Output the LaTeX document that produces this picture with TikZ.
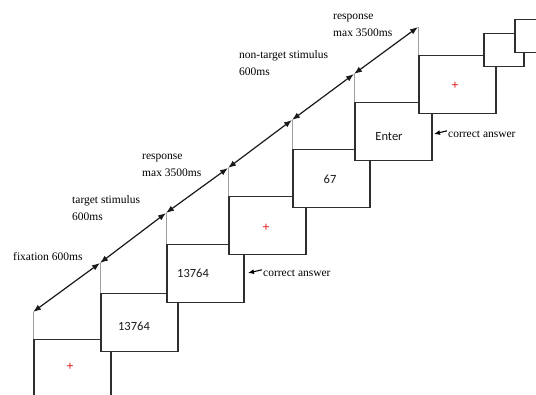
\documentclass[tikz,border=0pt]{standalone}
\usepackage{fontspec}
\setmainfont{Liberation Serif}
\newfontfamily\screenfont{Carlito}
\usetikzlibrary{arrows.meta}
\definecolor{frame}{HTML}{2E2E2E}
\definecolor{guidegray}{HTML}{A0A0A0}
\definecolor{cross}{HTML}{E02020}
\tikzset{
  screen/.style={draw=frame, line width=1.5pt, fill=white, anchor=north west,
    inner sep=0pt, minimum width=77pt, minimum height=58pt},
  smallscreen/.style={screen, minimum width=40pt, minimum height=33pt},
  guideline/.style={draw=guidegray, line width=0.8pt},
  timeline/.style={{Latex[length=8pt,width=6pt]}-{Latex[length=8pt,width=6pt]},
    line width=1.2pt, black!90},
  phase/.style={font=\fontsize{11.5}{17}\selectfont, anchor=base west, inner sep=0pt,
    align=left, text=black},
  fixmark/.style={text=cross, font=\fontsize{13}{13}\selectfont\bfseries, inner sep=0pt},
  screentext/.style={font=\screenfont\fontsize{12.5}{12.5}\selectfont, inner sep=0pt, text=black!90},
  pointer/.style={-{Latex[length=6pt,width=5pt]}, line width=1.1pt, black}
}
\begin{document}
\begin{tikzpicture}[x=1pt,y=-1pt]
\useasboundingbox (0,0) rectangle (536,395);
\clip (0,0) rectangle (536,395);

% screens of the trial sequence, each one laid over the previous
\node[screen] (s1) at (33,339) {};
\node[screen] (s2) at (100,293) {};
\node[screen] (s3) at (166,244) {};
\node[screen] (s4) at (228,196) {};
\node[screen] (s5) at (292,149) {};
\node[screen] (s6) at (354,102) {};
\node[screen] (s7) at (418,55) {};
\node[smallscreen] (s8) at (483,33) {};
\node[smallscreen] (s9) at (514,19) {};

% screen contents
\node[fixmark] (f1) at (70,367) {+};
\node[screentext] (t2) at (134,326) {13764};
\node[screentext] (t3) at (193,273) {13764};
\node[fixmark] (f4) at (266,228) {+};
\node[screentext] (t5) at (330,179) {67};
\node[screentext] (t6) at (389,137) {Enter};
\node[fixmark] (f7) at (455,86) {+};

% points on the time axis above each screen
\coordinate (c1) at (33,312);
\coordinate (c2) at (100,263);
\coordinate (c3) at (166,213);
\coordinate (c4) at (228,168);
\coordinate (c5) at (292,120);
\coordinate (c6) at (354,74);
\coordinate (c7) at (418,27);

\draw[guideline] (s1.north west) -- (c1);
\draw[guideline] (s2.north west) -- (c2);
\draw[guideline] (s3.north west) -- (c3);
\draw[guideline] (s4.north west) -- (c4);
\draw[guideline] (s5.north west) -- (c5);
\draw[guideline] (s6.north west) -- (c6);
\draw[guideline] (s7.north west) -- (c7);

\draw[timeline] (c1) -- (c2);
\draw[timeline] (c2) -- (c3);
\draw[timeline] (c3) -- (c4);
\draw[timeline] (c4) -- (c5);
\draw[timeline] (c5) -- (c6);
\draw[timeline] (c6) -- (c7);

% phase durations (two-line labels are placed by their last baseline)
\node[phase] (p1) at (13,260.5) {fixation 600ms};
\node[phase] (p2) at (72,220.5) {target stimulus\\600ms};
\node[phase] (p3) at (142,176.5) {response\\max 3500ms};
\node[phase] (p4) at (239,75.5) {non-target stimulus\\600ms};
\node[phase] (p5) at (333,36.5) {response\\max 3500ms};

% correct answer markers
\node[phase] (a1) at (263,276.5) {correct answer};
\coordinate (a1tip) at (248,273);
\draw[pointer] (a1.west) ++(-1,-3.5) coordinate (a1tail) -- (a1tip);
\node[phase] (a2) at (448,137.5) {correct answer};
\coordinate (a2tip) at (434,134);
\draw[pointer] (a2.west) ++(-1,-3.5) coordinate (a2tail) -- (a2tip);
\end{tikzpicture}
\end{document}
